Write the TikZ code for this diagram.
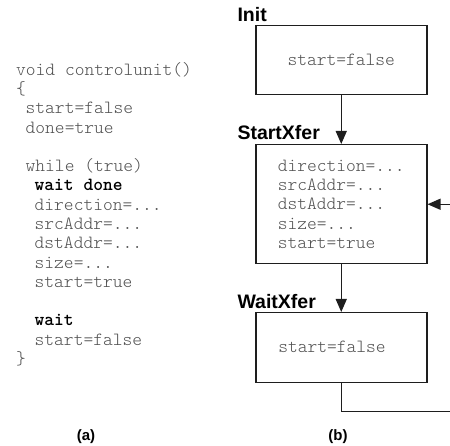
\documentclass[tikz,border=0pt]{standalone}
\usepackage{fontspec}
\setmainfont{Liberation Sans}
\setmonofont{Latin Modern Mono Light}
\usetikzlibrary{arrows.meta}
\definecolor{codegray}{HTML}{505050}
\definecolor{linegray}{HTML}{1E1E1E}
\begin{document}
\begin{tikzpicture}[x=1pt,y=-1pt,
  codeline/.style={anchor=base west, inner sep=0pt, text=codegray,
    font=\fontsize{18.6}{19.4}\selectfont\ttfamily},
  statebox/.style={draw=linegray, line width=1.5pt, minimum width=171pt,
    anchor=north west, inner sep=0pt, text=codegray, align=left,
    font=\fontsize{18.6}{19.4}\selectfont\ttfamily},
  boxtext/.style={inner sep=0pt, text=codegray,
    font=\fontsize{18.6}{19.4}\selectfont\ttfamily},
  statelabel/.style={anchor=base west, inner sep=0pt,
    font=\fontsize{19.5}{20}\selectfont\bfseries},
  caption/.style={inner sep=0pt, font=\fontsize{15}{16}\selectfont\bfseries},
  arr/.style={draw=linegray, line width=1.3pt, -{Triangle[length=13pt,width=11pt]}}
]
\useasboundingbox (0,0) rectangle (450,446);

% (a) code listing
\node[codeline] (l0)  at (16,   75.2) {void controlunit()};
\node[codeline] (l1)  at (16,   94.5) {\{};
\node[codeline] (l2)  at (25.5, 113.8) {start=false};
\node[codeline] (l3)  at (25.5, 133.1) {done=true};
\node[codeline] (l5)  at (25.5, 171.6) {while (true)};
\node[codeline, text=black] (l6) at (34.5, 190.9) {\bfseries wait done};
\node[codeline] (l7)  at (34.5, 210.2) {direction=...};
\node[codeline] (l8)  at (34.5, 229.5) {srcAddr=...};
\node[codeline] (l9)  at (34.5, 248.8) {dstAddr=...};
\node[codeline] (l10) at (34.5, 268.1) {size=...};
\node[codeline] (l11) at (34.5, 287.4) {start=true};
\node[codeline, text=black] (l13) at (34.5, 326.0) {\bfseries wait};
\node[codeline] (l14) at (34.5, 345.3) {start=false};
\node[codeline] (l15) at (16,   364.6) {\}};

% (b) state diagram
\node[statelabel] (initlab) at (237.3, 21.7) {Init};
\node[statebox, minimum height=69pt] (init) at (255,25) {start=false};

\node[statelabel] (startlab) at (237.3, 139.3) {StartXfer};
\node[statebox, minimum height=119pt] (startx) at (255,144)
  {direction=...\\srcAddr=...\\dstAddr=...\\size=...\\start=true};

\node[statelabel] (waitlab) at (237.3, 308.3) {WaitXfer};
\node[statebox, minimum height=70pt] (waitx) at (255,312) {};
\node[boxtext] (waittxt) at (332,346.7) {start=false};

% the loop runs past the right edge of the picture
\coordinate (loopcorner) at (460,411.5);

\draw[arr] (init.south) -- (startx.north);
\draw[arr] (startx.south) -- (waitx.north);
\draw[arr] (waitx.south) |- (loopcorner) |- (startx.east);

% captions
\node[caption] (capa) at (86,437) {(a)};
\node[caption] (capb) at (338,437) {(b)};
\end{tikzpicture}
\end{document}
